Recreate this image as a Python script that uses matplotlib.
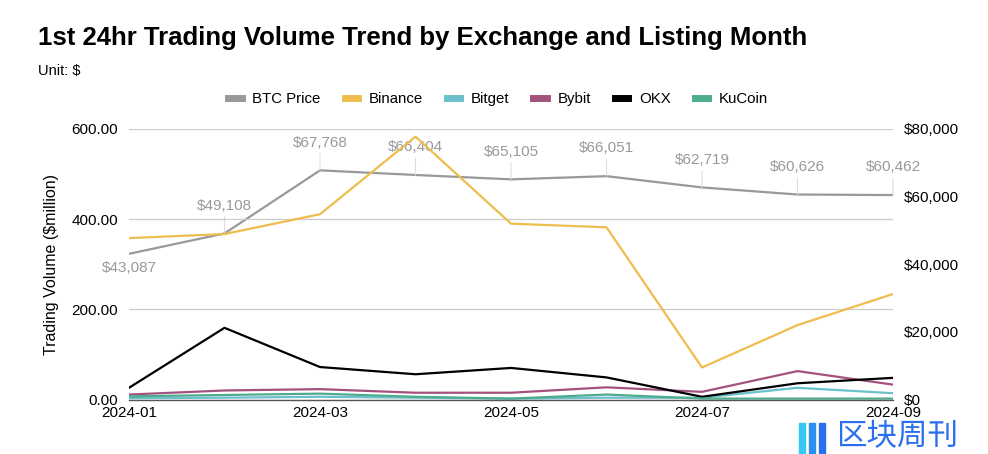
import matplotlib
matplotlib.use("Agg")
import matplotlib.pyplot as plt
from matplotlib.lines import Line2D
from matplotlib.patches import Rectangle
from matplotlib.ticker import FuncFormatter

plt.rcParams['font.family'] = ['Liberation Sans', 'DejaVu Sans']

months = ['2024-01', '2024-02', '2024-03', '2024-04', '2024-05',
          '2024-06', '2024-07', '2024-08', '2024-09']
btc_price = [43087, 49108, 67768, 66404, 65105, 66051, 62719, 60626, 60462]
binance = [358, 367, 411, 583, 390, 382, 71, 165, 234]
bitget = [3, 4, 6, 4, 2, 4, 4, 26, 14]
bybit = [11, 20, 23, 15, 15, 27, 17, 63, 33]
okx = [26, 159, 72, 56, 70, 49, 6, 36, 48]
kucoin = [7, 10, 13, 6, 2, 11, 2, 2, 2]

series = [
    ('Binance', binance, '#eebd4d'),
    ('Bitget', bitget, '#6bc1cb'),
    ('Bybit', bybit, '#a3527e'),
    ('OKX', okx, '#000000'),
    ('KuCoin', kucoin, '#4fab8e'),
]
btc_color = '#999999'

fig = plt.figure(figsize=(9.88, 4.54), dpi=100)
ax = fig.add_axes([129 / 988, 1 - 399.5 / 454, (893 - 129) / 988, (399.5 - 129) / 454])
ax2 = ax.twinx()

x = list(range(len(months)))

# BTC on the right axis, behind the volume lines
ax2.plot(x, btc_price, color=btc_color, lw=1.6, solid_joinstyle='round')
ax2.set_ylim(0, 80000)
ax2.set_yticks([0, 20000, 40000, 60000, 80000])
ax2.yaxis.set_major_formatter(FuncFormatter(lambda v, p: '${:,.0f}'.format(v)))
ax2.tick_params(axis='y', length=0, labelsize=11, pad=8)
for s in ax2.spines.values():
    s.set_visible(False)

for i, v in enumerate(btc_price):
    if i == 0:
        ax2.annotate('${:,}'.format(v), (i, v), xytext=(0, -5), textcoords='offset points',
                     ha='center', va='top', fontsize=11, color=btc_color)
    else:
        ax2.annotate('${:,}'.format(v), (i, v), xytext=(0, 15), textcoords='offset points',
                     ha='center', va='bottom', fontsize=11, color=btc_color,
                     arrowprops=dict(arrowstyle='-', color='#dddddd', lw=0.8,
                                     shrinkA=1, shrinkB=0))

for name, vals, col in series:
    ax.plot(x, vals, color=col, lw=1.6, solid_joinstyle='round')

ax.set_zorder(ax2.get_zorder() + 1)
ax.patch.set_visible(False)

ax.set_xlim(0, len(months) - 1)
ax.set_ylim(0, 600)
ax.set_yticks([0, 200, 400, 600])
ax.yaxis.set_major_formatter(FuncFormatter(lambda v, p: '{:.2f}'.format(v)))
ax.set_xticks(x[::2])
ax.set_xticklabels(months[::2])
ax.tick_params(axis='both', length=0, labelsize=11)
ax.tick_params(axis='x', pad=5)
ax.tick_params(axis='y', pad=8)
ax.grid(axis='y', color='#cccccc', lw=0.9)
ax.set_axisbelow(True)
for s in ['top', 'right', 'left']:
    ax.spines[s].set_visible(False)
ax.spines['bottom'].set_color('#555555')
ax.spines['bottom'].set_linewidth(1.0)
ax.set_ylabel('Trading Volume ($million)', fontsize=11.5, labelpad=9)

fig.text(38 / 988, 1 - 38 / 454, '1st 24hr Trading Volume Trend by Exchange and Listing Month',
         fontsize=18.5, fontweight='bold', va='center', ha='left')
fig.text(38 / 988, 1 - 71 / 454, 'Unit: $', fontsize=10.5, va='center', ha='left')

handles = [Line2D([0], [0], color=btc_color, lw=5)]
labels = ['BTC Price']
for name, vals, col in series:
    handles.append(Line2D([0], [0], color=col, lw=5))
    labels.append(name)
fig.legend(handles, labels, loc='center', bbox_to_anchor=(498 / 988, 1 - 99 / 454),
           ncol=6, frameon=False, fontsize=10.8, handlelength=0.9, handletextpad=0.7,
           columnspacing=1.6)

# watermark
for k, c in enumerate(['#35c8f2', '#2b8ff0', '#2a6ff0']):
    fig.patches.append(Rectangle(((799 + k * 10) / 988, 1 - 453 / 454), 6 / 988, 30 / 454,
                                 transform=fig.transFigure, color=c))
fig.text(836 / 988, 1 - 437 / 454, '区块周刊', fontsize=22, color='#2a6ff0',
         family=['Noto Sans CJK SC', 'DejaVu Sans'], va='center', ha='left')

fig.savefig('out.png', dpi=100)
